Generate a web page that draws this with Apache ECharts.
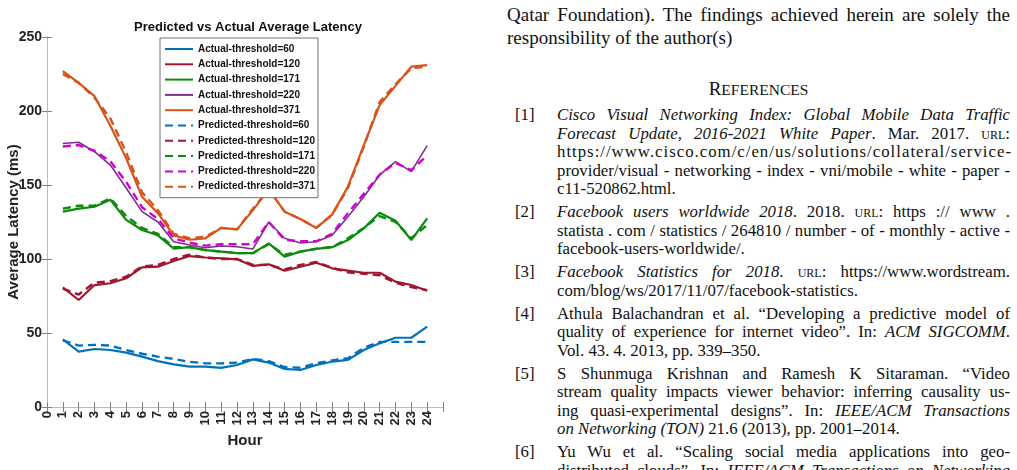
<!DOCTYPE html>
<html>
<head>
<meta charset="utf-8">
<script src="https://cdn.jsdelivr.net/npm/echarts@6/dist/echarts.min.js"></script>
<style>
  html, body { margin: 0; padding: 0; background: #fff; width: 1017px; height: 470px; overflow: hidden; }
  #latencyChart { position: absolute; left: 0; top: 0; width: 470px; height: 470px; }
  .page { position: absolute; left: 507px; top: 0; width: 503px; font-family: 'Liberation Serif', 'Times New Roman', serif; color: #111; }
  .para { position: absolute; left: 0; top: 3px; width: 503px; font-size: 19px; line-height: 23px; }
  .jl { text-align: justify; text-align-last: justify; white-space: nowrap; }
  .heading { position: absolute; left: 0; top: 78px; width: 503px; text-align: center; font-size: 19px; }
  .heading small { font-size: 15.5px; }
  .refs { position: absolute; left: 0; top: 106px; width: 503px; font-size: 16.8px; line-height: 18.5px; }
  .ref { position: relative; padding-left: 50px; margin-bottom: 4.5px; }
  .ref .num { position: absolute; left: 8px; top: 0; }
  .sc { font-variant: small-caps; }
  .ls { letter-spacing: 1px; }
</style>
</head>
<body>
<div id="latencyChart"></div>

<div class="page">
  <div class="para">
    <div class="jl">Qatar Foundation). The findings achieved herein are solely the</div>
    <div>responsibility of the author(s)</div>
  </div>
  <div class="heading">R<small>EFERENCES</small></div>
  <div class="refs">
    <div class="ref"><span class="num">[1]</span>
      <div class="jl"><i>Cisco Visual Networking Index: Global Mobile Data Traffic</i></div>
      <div class="jl"><i>Forecast Update, 2016-2021 White Paper</i>. Mar. 2017. <span class="sc">url</span>:</div>
      <div class="jl ls">https://www.cisco.com/c/en/us/solutions/collateral/service-</div>
      <div class="jl">provider/visual - networking - index - vni/mobile - white - paper -</div>
      <div>c11-520862.html.</div>
    </div>
    <div class="ref"><span class="num">[2]</span>
      <div class="jl"><i>Facebook users worldwide 2018</i>. 2018. <span class="sc">url</span>: https :// www .</div>
      <div class="jl">statista . com / statistics / 264810 / number - of - monthly - active -</div>
      <div>facebook-users-worldwide/.</div>
    </div>
    <div class="ref"><span class="num">[3]</span>
      <div class="jl"><i>Facebook Statistics for 2018</i>. <span class="sc">url</span>: https://www.wordstream.</div>
      <div>com/blog/ws/2017/11/07/facebook-statistics.</div>
    </div>
    <div class="ref"><span class="num">[4]</span>
      <div class="jl">Athula Balachandran et al. “Developing a predictive model of</div>
      <div class="jl">quality of experience for internet video”. In: <i>ACM SIGCOMM</i>.</div>
      <div>Vol. 43. 4. 2013, pp. 339–350.</div>
    </div>
    <div class="ref"><span class="num">[5]</span>
      <div class="jl">S Shunmuga Krishnan and Ramesh K Sitaraman. “Video</div>
      <div class="jl">stream quality impacts viewer behavior: inferring causality us-</div>
      <div class="jl">ing quasi-experimental designs”. In: <i>IEEE/ACM Transactions</i></div>
      <div><i>on Networking (TON)</i> 21.6 (2013), pp. 2001–2014.</div>
    </div>
    <div class="ref"><span class="num">[6]</span>
      <div class="jl">Yu Wu et al. “Scaling social media applications into geo-</div>
      <div class="jl">distributed clouds”. In: <i>IEEE/ACM Transactions on Networking</i></div>
    </div>
  </div>
</div>

<script>
  // hours 1..24
  var hours = [1,2,3,4,5,6,7,8,9,10,11,12,13,14,15,16,17,18,19,20,21,22,23,24]

  // actual average latency per threshold (ms)
  var actual60  = [45.7,37.4,39.2,38.5,36.7,34.0,31.0,28.8,27.3,27.3,26.4,28.4,32.2,30.0,25.7,25.0,28.4,30.6,31.8,38.5,43.0,46.8,46.8,54.3]
  var actual120 = [80.9,72.3,82.4,83.6,87.0,94.4,94.8,98.6,102.0,101.0,100.5,99.8,95.3,96.4,92.1,94.8,97.5,93.7,92.1,90.7,90.7,84.7,82.4,78.6]
  var actual171 = [132,134,135.3,140,126.4,119.6,116,107,108,106,105,104,104,110.6,101.6,105,106.8,108,112.8,120.7,131.3,125.9,112.8,127.5]
  var actual220 = [178,178.9,172.5,163.5,148,132,125,111.7,109.5,107.6,108.8,108.3,106.8,125,114,110.8,111.7,116,128.6,142,156.8,165.8,159,176.6]
  var actual371 = [227,219,210,190,168,142,131,116,113,114,121,120,133,147,132,127,121,130,149,177,204,217,230,231]

  // predicted average latency per threshold (ms)
  var pred60  = [45,41.5,42,41.5,38.5,36,34,32.5,30.5,29.5,29.5,30,32.5,31,27,26.5,29.5,31.5,33,40,44,44,44,44]
  var pred120 = [80,76,84,85,88,95,96,100,103,101,100,100,96,96,93,96,98,94,91,90,89,84,81,79]
  var pred171 = [134,136,136,141,129,121,117,108,108,106,105,104,104,110,103,105,107,108,114,121,129,125,114,123]
  var pred220 = [176,177,173,166,152,135,127,114,111,109,110,110,110,125,113,112,112,117,131,144,157,165,160,170]
  var pred371 = [225,219,209,195,172,145,133,117,114,115,121,120,134,147,132,127,121,130,148,176,206,218,229,230]

  var yTicks = [0, 50, 100, 150, 200, 250]

  var chartFont = "'Liberation Sans', Arial, sans-serif"

  var pairs = function (vals) {
    return hours.map(function (h, i) { return [h, vals[i]] })
  }

  var makeLine = function (name, vals, color, width, dashed) {
    return {
      name: name,
      type: 'line',
      data: pairs(vals),
      symbol: 'none',
      silent: true,
      lineStyle: { color: color, width: width, type: dashed ? [8, 5] : 'solid' },
      itemStyle: { color: color }
    }
  }

  var markLatencyChart = function () {
    var chartDom = echarts.init(document.getElementById('latencyChart'))
    var axisGray = '#808080'
    var option = {
      animation: false,
      title: {
        text: 'Predicted vs Actual Average Latency',
        left: 243,
        textAlign: 'center',
        top: 16,
        textStyle: { fontFamily: chartFont, fontWeight: 'bold', fontSize: 13, color: '#111' }
      },
      legend: {
        orient: 'vertical',
        left: 160,
        top: 38,
        padding: [4, 3, 4, 4],
        itemWidth: 28,
        itemHeight: 14,
        itemGap: 1.3,
        backgroundColor: '#fff',
        borderColor: '#707070',
        borderWidth: 1,
        itemStyle: { opacity: 0 },
        textStyle: { fontFamily: chartFont, fontWeight: 'bold', fontSize: 10, color: '#111', lineHeight: 14 }
      },
      grid: { left: 47, top: 37, width: 396, height: 370, outerBoundsMode: 'none' },
      xAxis: [
        {
          type: 'value', min: 0, max: 25, interval: 1,
          name: 'Hour', nameLocation: 'middle', nameGap: 26,
          nameTextStyle: { fontFamily: chartFont, fontWeight: 'bold', fontSize: 15, color: '#222' },
          axisLine: { lineStyle: { color: axisGray } },
          axisTick: { inside: true, length: 5, lineStyle: { color: axisGray } },
          splitLine: { show: false },
          axisLabel: {
            rotate: 90, margin: 4,
            fontFamily: chartFont, fontWeight: 'bold', fontSize: 13, color: '#222',
            formatter: function (v) { return v <= 24 ? String(v) : '' }
          }
        },
        {
          type: 'value', min: 0, max: 25, interval: 1, position: 'top',
          axisLine: { show: true, lineStyle: { color: '#bbb' } },
          axisTick: { show: true, inside: true, length: 5, lineStyle: { color: axisGray } },
          axisLabel: { show: false },
          splitLine: { show: false }
        }
      ],
      yAxis: [
        {
          type: 'value', min: 0, max: 250, interval: 50,
          name: 'Average Latency (ms)', nameLocation: 'middle', nameGap: 26, nameMoveOverlap: false,
          nameTextStyle: { fontFamily: chartFont, fontWeight: 'bold', fontSize: 15, color: '#222' },
          axisLine: { show: true, lineStyle: { color: axisGray } },
          axisTick: { show: true, inside: true, length: 5, lineStyle: { color: axisGray } },
          splitLine: { show: false },
          axisLabel: {
            margin: 5, fontFamily: chartFont, fontWeight: 'bold', fontSize: 14, color: '#222',
            formatter: function (v) { return yTicks.indexOf(v) >= 0 ? String(v) : '' }
          }
        },
        {
          type: 'value', min: 0, max: 250, interval: 50, position: 'right',
          axisLine: { show: true, lineStyle: { color: '#bbb' } },
          axisTick: { show: true, inside: true, length: 5, lineStyle: { color: axisGray } },
          axisLabel: { show: false },
          splitLine: { show: false }
        }
      ],
      series: [
        makeLine('Actual-threshold=60', actual60, '#0072BD', 2.2, false),
        makeLine('Actual-threshold=120', actual120, '#A2142F', 2.2, false),
        makeLine('Actual-threshold=171', actual171, '#0B8A0B', 2.2, false),
        makeLine('Actual-threshold=220', actual220, '#7E2F8E', 1.6, false),
        makeLine('Actual-threshold=371', actual371, '#D95319', 2.2, false),
        makeLine('Predicted-threshold=60', pred60, '#0072BD', 2.4, true),
        makeLine('Predicted-threshold=120', pred120, '#A2142F', 2.4, true),
        makeLine('Predicted-threshold=171', pred171, '#0B8A0B', 2.4, true),
        makeLine('Predicted-threshold=220', pred220, '#D000D0', 2.4, true),
        makeLine('Predicted-threshold=371', pred371, '#D95319', 2.4, true)
      ]
    }
    option && chartDom.setOption(option)
  }

  markLatencyChart()
</script>
</body>
</html>
